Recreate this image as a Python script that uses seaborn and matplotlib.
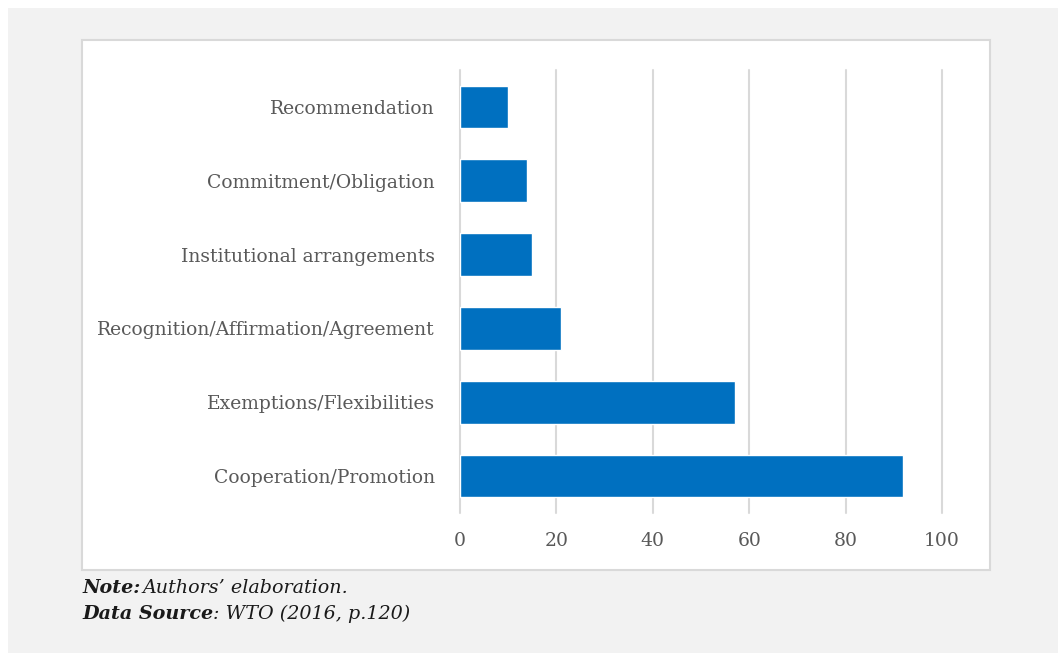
import matplotlib
matplotlib.use("Agg")
import matplotlib.pyplot as plt
from matplotlib.patches import Rectangle
import seaborn as sns
import pandas as pd

# Agreement provisions by type (count)
categories = [
    "Recommendation",
    "Commitment/Obligation",
    "Institutional arrangements",
    "Recognition/Affirmation/Agreement",
    "Exemptions/Flexibilities",
    "Cooperation/Promotion",
]
counts = [10, 14, 15, 21, 57, 92]
x_ticks = [0, 20, 40, 60, 80, 100]

df = pd.DataFrame({"category": categories, "count": counts})

sns.set_theme(style="white")
plt.rcParams["font.family"] = ["DejaVu Serif"]

W, H = 1058, 654
fig = plt.figure(figsize=(W / 100, H / 100), dpi=100)
fig.patch.set_facecolor("white")


def px_rect(x0, y0, x1, y1, **kw):
    return Rectangle((x0 / W, 1 - y1 / H), (x1 - x0) / W, (y1 - y0) / H,
                     transform=fig.transFigure, **kw)


# grey page background and white chart area
fig.patches.append(px_rect(8, 8, 1058, 653, facecolor="#f2f2f2", edgecolor="none", zorder=-3))
fig.patches.append(px_rect(82, 40, 990, 570, facecolor="white", edgecolor="#d9d9d9",
                           linewidth=1.5, zorder=-2))

ax = fig.add_axes([460 / W, 1 - 513 / H, (942 - 460) / W, (513 - 70) / H])
ax.set_facecolor("none")

sns.barplot(data=df, x="count", y="category", color="#0070C0", width=0.58,
            saturation=1, ax=ax, zorder=3)

ax.set_xlim(0, 100)
ax.set_ylim(len(categories) - 0.5, -0.5)
ax.set_xticks(x_ticks)
ax.set_xticklabels([str(t) for t in x_ticks])
ax.grid(axis="x", color="#d9d9d9", linewidth=1.5, zorder=0)
ax.grid(axis="y", visible=False)
for gl in ax.get_xgridlines():
    gl.set_clip_on(False)
for s in ax.spines.values():
    s.set_visible(False)
ax.set_xlabel("")
ax.set_ylabel("")
ax.tick_params(axis="x", length=0, pad=14, labelsize=13.5, labelcolor="#595959")
ax.tick_params(axis="y", length=0, pad=18, labelsize=13.5, labelcolor="#595959")

# notes below the chart
y1 = 1 - 588 / H
y2 = 1 - 614 / H
x0 = 82 / W
fs = 13.8
t = fig.text(x0, y1, "Note:", fontsize=fs, fontweight="bold", fontstyle="italic",
             color="#1a1a1a", va="center")
fig.canvas.draw()
bb = t.get_window_extent()
fig.text(bb.x1 / W + 0.002, y1, "Authors\u2019 elaboration.", fontsize=fs,
         fontstyle="italic", color="#1a1a1a", va="center")
t2 = fig.text(x0, y2, "Data Source", fontsize=fs, fontweight="bold", fontstyle="italic",
              color="#1a1a1a", va="center")
fig.canvas.draw()
bb2 = t2.get_window_extent()
fig.text(bb2.x1 / W, y2, ": WTO (2016, p.120)", fontsize=fs,
         fontstyle="italic", color="#1a1a1a", va="center")

fig.savefig("out.png", dpi=100)
